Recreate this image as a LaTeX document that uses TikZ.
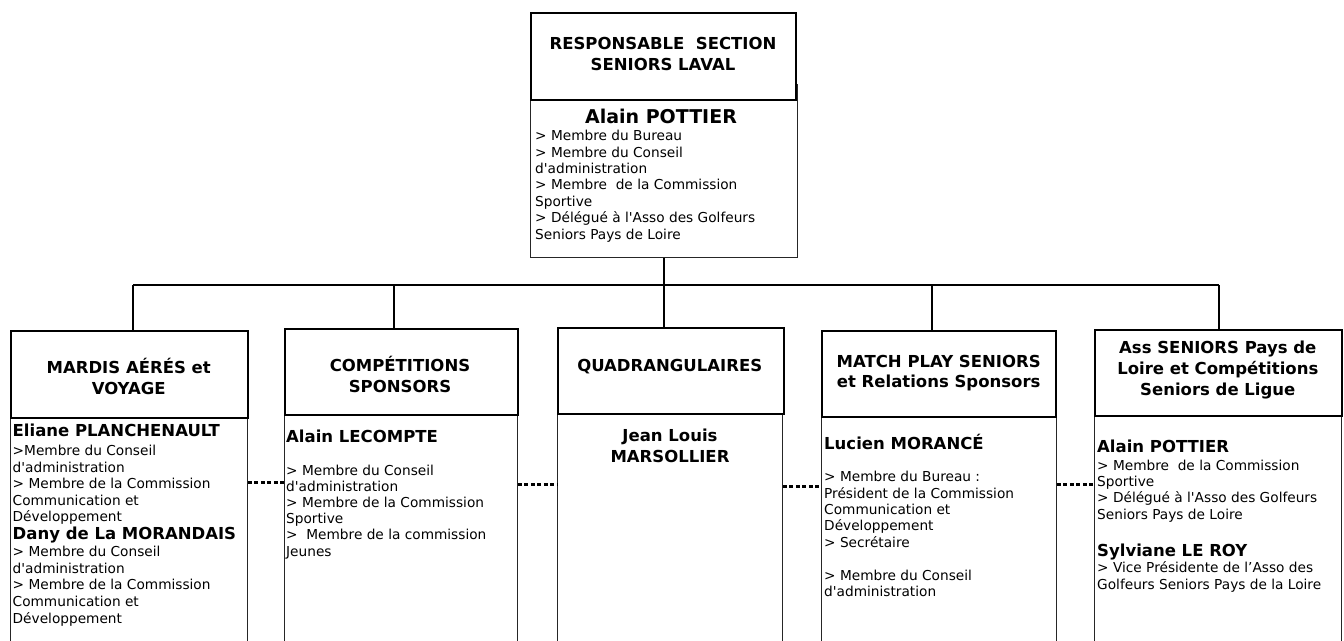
\documentclass[tikz,border=0pt]{standalone}
\usepackage{fontspec}
\setmainfont{DejaVu Sans}[Ligatures=TeXOff]
\newcommand{\blk}[1]{\begin{tabular}[t]{@{}l@{}}#1\end{tabular}}
\newcommand{\cblk}[1]{\begin{tabular}[t]{@{}c@{}}#1\end{tabular}}
\begin{document}
\begin{tikzpicture}[x=1pt,y=-1pt,
  hdr/.style={draw, line width=2pt, fill=white, inner sep=0pt, anchor=north west},
  bodybox/.style={draw=black!85, line width=0.9pt, inner sep=0pt, anchor=north west},
  htxt/.style={font=\fontsize{16.5}{21}\selectfont\bfseries, inner sep=0pt, anchor=base},
  ntxt/.style={font=\fontsize{16.5}{20.6}\selectfont\bfseries, inner sep=0pt, anchor=base west},
  btxt/.style={font=\fontsize{13.7}{16.6}\selectfont, inner sep=0pt, anchor=base west},
  link/.style={line width=2pt},
  busline/.style={line width=1.5pt},
  dotl/.style={line width=3pt, dash pattern=on 4pt off 2.5pt}]
\useasboundingbox (0,0) rectangle (1344,640);
\clip (0,0) rectangle (1344,640);
\fill[white] (0,0) rectangle (1344,640);

% top box
\node[bodybox, minimum width=267pt, minimum height=173pt] (tb) at (530,84) {};
\node[hdr, minimum width=265pt, minimum height=87pt] (th) at (530,12) {};
\node[htxt] (tht) at (663,49.3) {\cblk{RESPONSABLE\ \ SECTION\\SENIORS LAVAL}};
\node[font=\fontsize{19}{22}\selectfont\bfseries, inner sep=0pt, anchor=base] (tnm) at (661,123.3) {Alain POTTIER};
\node[btxt, font=\fontsize{13.7}{16.4}\selectfont] (tbt) at (535,140.7) {\blk{> Membre du Bureau\\> Membre du Conseil\\d'administration\\> Membre\ \ de la Commission\\Sportive\\> Délégué à l'Asso des Golfeurs\\Seniors Pays de Loire}};

% box 1
\node[bodybox, minimum width=237pt, minimum height=250pt] (b1) at (10,417) {};
\node[hdr, minimum width=237pt, minimum height=87pt] (h1) at (10,330) {};
\node[htxt] (h1t) at (128.7,373.8) {\cblk{MARDIS AÉRÉS et\\VOYAGE}};
\node[ntxt] (n1a) at (12.5,436.7) {Eliane PLANCHENAULT};
\node[btxt] (t1a) at (12.5,455.5) {\blk{>Membre du Conseil\\d'administration\\> Membre de la Commission\\Communication et\\Développement}};
\node[ntxt] (n1b) at (12.5,539.3) {Dany de La MORANDAIS};
\node[btxt] (t1b) at (12.5,556.7) {\blk{> Membre du Conseil\\d'administration\\> Membre de la Commission\\Communication et\\Développement}};

% box 2
\node[bodybox, minimum width=233pt, minimum height=250pt] (b2) at (284,414) {};
\node[hdr, minimum width=233pt, minimum height=86pt] (h2) at (284,328) {};
\node[htxt, font=\fontsize{16.5}{20.7}\selectfont\bfseries] (h2t) at (400,371.5) {\cblk{COMPÉTITIONS\\SPONSORS}};
\node[ntxt] (n2) at (286,442.7) {Alain LECOMPTE};
\node[btxt, font=\fontsize{13.7}{16.2}\selectfont] (t2) at (286,475) {\blk{> Membre du Conseil\\d'administration\\> Membre de la Commission\\Sportive\\>\ \ Membre de la commission\\Jeunes}};

% box 3
\node[bodybox, minimum width=225pt, minimum height=250pt] (b3) at (557,413) {};
\node[hdr, minimum width=226pt, minimum height=86pt] (h3) at (557,327) {};
\node[htxt] (h3t) at (669.7,371.5) {QUADRANGULAIRES};
\node[htxt, font=\fontsize{16.5}{21}\selectfont\bfseries] (n3) at (670,441.7) {\cblk{Jean Louis\\MARSOLLIER}};

% box 4
\node[bodybox, minimum width=235pt, minimum height=260pt] (b4) at (821,407) {};
\node[hdr, minimum width=234pt, minimum height=86pt] (h4) at (821,330) {};
\node[htxt, font=\fontsize{16.5}{20.6}\selectfont\bfseries] (h4t) at (938.7,367.2) {\cblk{MATCH PLAY SENIORS\\et Relations Sponsors}};
\node[ntxt] (n4) at (824,449.3) {Lucien MORANCÉ};
\node[btxt, font=\fontsize{13.7}{16.4}\selectfont] (t4) at (824,481.7) {\blk{> Membre du Bureau :\\Président de la Commission\\Communication et\\Développement\\> Secrétaire\\ \\> Membre du Conseil\\d'administration}};

% box 5
\node[bodybox, minimum width=247pt, minimum height=250pt] (b5) at (1094,415) {};
\node[hdr, minimum width=247pt, minimum height=86pt] (h5) at (1094,329) {};
\node[htxt, font=\fontsize{16.5}{20.8}\selectfont\bfseries] (h5t) at (1217.8,353.8) {\cblk{Ass SENIORS Pays de\\Loire et Compétitions\\Seniors de Ligue}};
\node[ntxt] (n5a) at (1097,452.3) {Alain POTTIER};
\node[btxt, font=\fontsize{13.7}{16.1}\selectfont] (t5a) at (1097,470.7) {\blk{> Membre\ \ de la Commission\\Sportive\\> Délégué à l'Asso des Golfeurs\\Seniors Pays de Loire}};
\node[ntxt] (n5b) at (1097,556) {Sylviane LE ROY};
\node[btxt, font=\fontsize{13.7}{16.3}\selectfont] (t5b) at (1097,572.7) {\blk{> Vice Présidente de l’Asso des\\Golfeurs Seniors Pays de la Loire}};

% connectors
\coordinate (j1) at (133,285);
\coordinate (j2) at (394,285);
\coordinate (j4) at (932,285);
\coordinate (j5) at (1219,285);
\draw[busline] (j1) -- (j5);
\draw[link] (tb.south) -- (tb.south |- h3.north);
\draw[link] (j1) -- (j1 |- h1.north);
\draw[link] (j2) -- (j2 |- h2.north);
\draw[link] (j4) -- (j4 |- h4.north);
\draw[link] (j5) -- (j5 |- h5.north);

% dotted links
\draw[dotl] (b1.east |- 0,482) -- (b2.west |- 0,482);
\draw[dotl] (b2.east |- 0,484) -- (b3.west |- 0,484);
\draw[dotl] (b3.east |- 0,486) -- (b4.west |- 0,486);
\draw[dotl] (b4.east |- 0,484) -- (b5.west |- 0,484);
\end{tikzpicture}
\end{document}
